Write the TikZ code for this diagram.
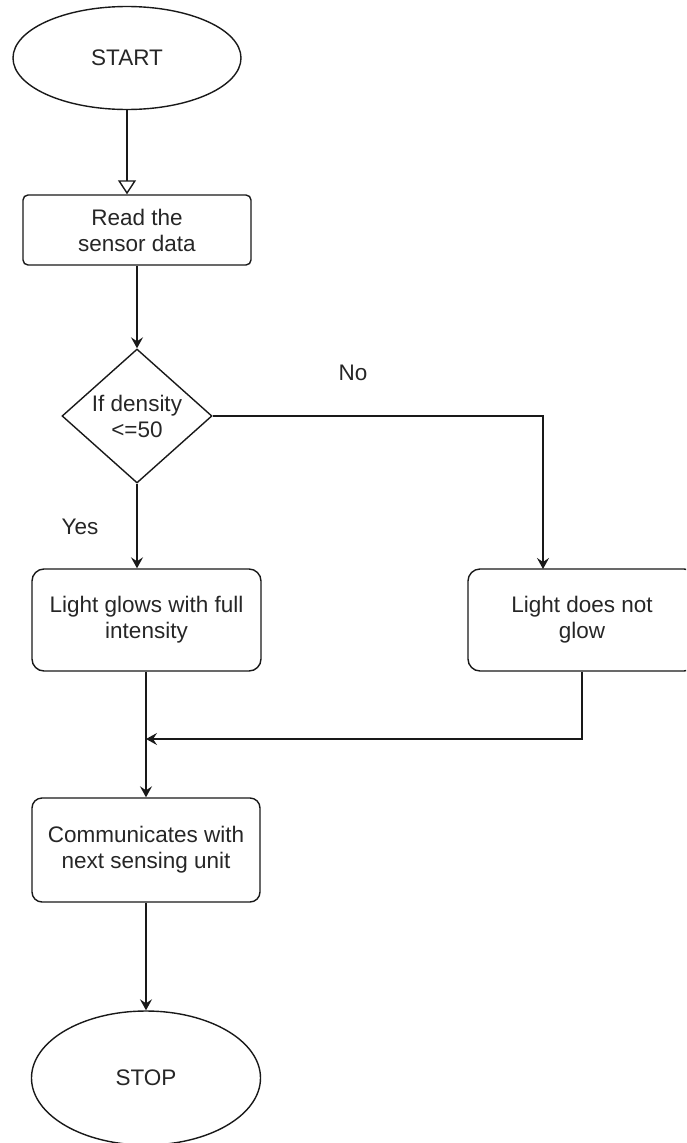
\documentclass[tikz,border=0pt]{standalone}
\usepackage{fontspec}
\setmainfont{Liberation Sans}
\usetikzlibrary{shapes.geometric,arrows.meta}
\begin{document}
\begin{tikzpicture}[x=1pt,y=-1pt,line width=1.4pt,
  font=\fontsize{22.5pt}{26pt}\selectfont,
  every node/.style={text=black!85},
  term/.style={draw=black!90,ellipse,inner sep=0pt},
  box/.style={draw=black!90,rectangle,align=center,inner sep=0pt},
  dec/.style={draw=black!90,diamond,align=center,inner sep=0pt,minimum width=150pt,minimum height=134pt},
  arr/.style={draw=black!90,-{Stealth[length=11pt,width=12pt,inset=4pt]}},
  openarr/.style={draw=black!90,-{Triangle[open,length=14pt,width=18pt]}}]
\useasboundingbox (0,0) rectangle (686,1143);
\clip (0,0) rectangle (686,1143);
\node[term,minimum width=228pt,minimum height=103pt] (start) at (127,58) {START};
\node[box,rounded corners=5pt,minimum width=228pt,minimum height=70pt] (read) at (137,230) {Read the\\sensor data};
\node[dec] (dec) at (137,416) {If density\\<=50};
\node[box,rounded corners=12pt,minimum width=229pt,minimum height=102pt] (lg) at (146.5,620) {Light glows with full\\intensity};
\node[box,rounded corners=12pt,minimum width=228pt,minimum height=102pt] (lng) at (582,620) {Light does not\\glow};
\node[box,rounded corners=10pt,minimum width=228pt,minimum height=104pt] (comm) at (146,850) {Communicates with\\next sensing unit};
\node[term,minimum width=229pt,minimum height=134pt] (stop) at (146,1078) {STOP};
\node (yes) at (80,527) {Yes};
\node (no) at (353,373) {No};
\coordinate (nodrop) at (543,569);
\coordinate (join) at (146,739);
\draw[openarr] (start.south) -- (start.south |- read.north);
\draw[arr] (read.south) -- (dec.north);
\draw[arr] (dec.south) -- (dec.south |- lg.north);
\draw[arr] (dec.east) -| (nodrop);
\draw[arr] (lg.south -| comm.north) -- (comm.north);
\draw[arr] (lng.south) |- (join);
\draw[arr] (comm.south) -- (stop.north);
\end{tikzpicture}
\end{document}
